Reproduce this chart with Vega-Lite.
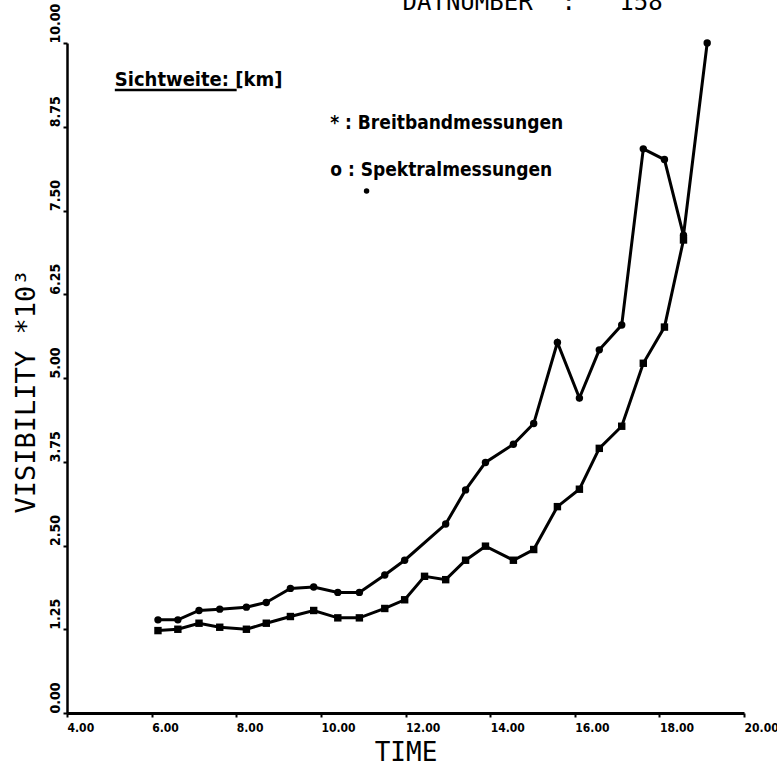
{
  "$schema": "https://vega.github.io/schema/vega-lite/v6.json",
  "width": 677,
  "height": 670,
  "autosize": {"type": "none"},
  "padding": {"left": 67, "top": 43, "right": 33, "bottom": 57},
  "background": "white",
  "config": {"view": {"stroke": null}},
  "encoding": {
    "x": {
      "field": "t",
      "type": "quantitative",
      "scale": {"domain": [4, 20], "nice": false, "zero": false},
      "axis": {
        "values": [4, 6, 8, 10, 12, 14, 16, 18, 20],
        "format": ".2f",
        "title": "TIME",
        "titleFont": "DejaVu Sans Mono",
        "titleFontSize": 26,
        "titleFontWeight": "normal",
        "titleColor": "black",
        "titlePadding": 6,
        "labelFont": "DejaVu Sans Condensed, DejaVu Sans, sans-serif",
        "labelFontWeight": "bold",
        "labelFontSize": 12,
        "labelColor": "black",
        "labelAlign": "left",
        "labelDx": -12,
        "labelPadding": 5,
        "labelFlush": false,
        "labelOverlap": false,
        "domainColor": "black",
        "domainWidth": 3,
        "tickColor": "black",
        "tickWidth": 2,
        "tickSize": 4,
        "grid": false
      }
    },
    "y": {
      "field": "v",
      "type": "quantitative",
      "scale": {"domain": [0, 10], "nice": false, "zero": false},
      "axis": {
        "values": [0, 1.25, 2.5, 3.75, 5, 6.25, 7.5, 8.75, 10],
        "format": ".2f",
        "title": "VISIBILITY *10³",
        "titleFont": "DejaVu Sans Mono",
        "titleFontSize": 27,
        "titleFontWeight": "normal",
        "titleColor": "black",
        "titlePadding": 8,
        "titleY": 348,
        "labelFont": "DejaVu Sans Condensed, DejaVu Sans, sans-serif",
        "labelFontWeight": "bold",
        "labelFontSize": 14,
        "labelColor": "black",
        "labelAngle": 270,
        "labelAlign": "left",
        "labelBaseline": "bottom",
        "labelPadding": 1,
        "labelFlush": false,
        "labelOverlap": false,
        "domainColor": "black",
        "domainWidth": 2.5,
        "tickColor": "black",
        "tickWidth": 2,
        "tickSize": 4,
        "grid": false
      }
    }
  },
  "layer": [
    {
      "data": {"name": "series", "values": [
        {"s": "Spektral", "t": 6.15, "v": 1.39},
        {"s": "Spektral", "t": 6.62, "v": 1.39},
        {"s": "Spektral", "t": 7.12, "v": 1.53},
        {"s": "Spektral", "t": 7.61, "v": 1.55},
        {"s": "Spektral", "t": 8.24, "v": 1.58},
        {"s": "Spektral", "t": 8.71, "v": 1.65},
        {"s": "Spektral", "t": 9.28, "v": 1.86},
        {"s": "Spektral", "t": 9.83, "v": 1.88},
        {"s": "Spektral", "t": 10.40, "v": 1.80},
        {"s": "Spektral", "t": 10.91, "v": 1.80},
        {"s": "Spektral", "t": 11.51, "v": 2.06},
        {"s": "Spektral", "t": 11.98, "v": 2.28},
        {"s": "Spektral", "t": 12.95, "v": 2.82},
        {"s": "Spektral", "t": 13.42, "v": 3.33},
        {"s": "Spektral", "t": 13.89, "v": 3.74},
        {"s": "Spektral", "t": 14.55, "v": 4.01},
        {"s": "Spektral", "t": 15.03, "v": 4.32},
        {"s": "Spektral", "t": 15.59, "v": 5.53},
        {"s": "Spektral", "t": 16.11, "v": 4.70},
        {"s": "Spektral", "t": 16.58, "v": 5.42},
        {"s": "Spektral", "t": 17.11, "v": 5.79},
        {"s": "Spektral", "t": 17.62, "v": 8.42},
        {"s": "Spektral", "t": 18.12, "v": 8.26},
        {"s": "Spektral", "t": 18.57, "v": 7.13},
        {"s": "Spektral", "t": 19.13, "v": 10.00},
        {"s": "Breitband", "t": 6.15, "v": 1.23},
        {"s": "Breitband", "t": 6.62, "v": 1.25},
        {"s": "Breitband", "t": 7.12, "v": 1.34},
        {"s": "Breitband", "t": 7.61, "v": 1.28},
        {"s": "Breitband", "t": 8.24, "v": 1.25},
        {"s": "Breitband", "t": 8.71, "v": 1.34},
        {"s": "Breitband", "t": 9.28, "v": 1.44},
        {"s": "Breitband", "t": 9.83, "v": 1.53},
        {"s": "Breitband", "t": 10.40, "v": 1.42},
        {"s": "Breitband", "t": 10.91, "v": 1.42},
        {"s": "Breitband", "t": 11.51, "v": 1.56},
        {"s": "Breitband", "t": 11.98, "v": 1.69},
        {"s": "Breitband", "t": 12.45, "v": 2.04},
        {"s": "Breitband", "t": 12.95, "v": 1.99},
        {"s": "Breitband", "t": 13.42, "v": 2.28},
        {"s": "Breitband", "t": 13.89, "v": 2.49},
        {"s": "Breitband", "t": 14.55, "v": 2.28},
        {"s": "Breitband", "t": 15.03, "v": 2.44},
        {"s": "Breitband", "t": 15.59, "v": 3.08},
        {"s": "Breitband", "t": 16.11, "v": 3.34},
        {"s": "Breitband", "t": 16.58, "v": 3.95},
        {"s": "Breitband", "t": 17.11, "v": 4.28},
        {"s": "Breitband", "t": 17.62, "v": 5.22},
        {"s": "Breitband", "t": 18.12, "v": 5.76},
        {"s": "Breitband", "t": 18.57, "v": 7.06}
      ]},
      "layer": [
        {
          "mark": {"type": "line", "color": "black", "strokeWidth": 3},
          "encoding": {"detail": {"field": "s"}}
        },
        {
          "mark": {"type": "point", "filled": true, "color": "black", "opacity": 1, "size": 55},
          "encoding": {
            "shape": {
              "field": "s",
              "scale": {"domain": ["Breitband", "Spektral"], "range": ["square", "circle"]},
              "legend": null
            }
          }
        }
      ]
    },
    {
      "data": {"name": "heading", "values": [
        {"t": 5.13, "v": 9.45, "label": "Sichtweite: [km]"}
      ]},
      "mark": {"type": "text", "align": "left", "baseline": "middle", "font": "DejaVu Sans Condensed, DejaVu Sans, sans-serif", "fontWeight": "bold", "fontSize": 20, "color": "black"},
      "encoding": {"text": {"field": "label"}}
    },
    {
      "data": {"name": "notes", "values": [
        {"t": 10.22, "v": 8.81, "label": "* : Breitbandmessungen"},
        {"t": 10.22, "v": 8.10, "label": "o : Spektralmessungen"}
      ]},
      "mark": {"type": "text", "align": "left", "baseline": "middle", "font": "DejaVu Sans Condensed, DejaVu Sans, sans-serif", "fontWeight": "bold", "fontSize": 19, "color": "black"},
      "encoding": {"text": {"field": "label"}}
    },
    {
      "data": {"name": "datnumber", "values": [
        {"t": 11.93, "v": 10.49, "label": "DATNUMBER\u00a0\u00a0:\u00a0\u00a0\u00a0158"}
      ]},
      "mark": {"type": "text", "align": "left", "baseline": "alphabetic", "font": "DejaVu Sans Mono", "fontSize": 24, "color": "black"},
      "encoding": {"text": {"field": "label"}}
    },
    {
      "data": {"name": "underline", "values": [{"t": 5.13, "t2": 8.01, "v": 9.30}]},
      "mark": {"type": "rule", "color": "black", "strokeWidth": 2.5},
      "encoding": {"x2": {"field": "t2"}}
    },
    {
      "data": {"name": "speck", "values": [{"t": 11.08, "v": 7.79}]},
      "mark": {"type": "point", "filled": true, "color": "black", "opacity": 1, "size": 30, "shape": "circle"},
      "encoding": {}
    }
  ]
}
